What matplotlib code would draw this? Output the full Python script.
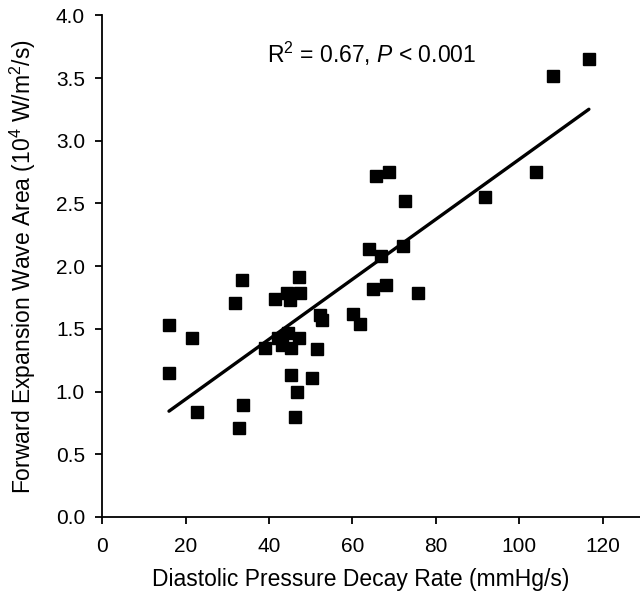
import numpy as np
import matplotlib.pyplot as plt

plt.rcParams['font.family'] = ['Liberation Sans', 'DejaVu Sans']
plt.rcParams['mathtext.fontset'] = 'custom'
plt.rcParams['mathtext.rm'] = 'Liberation Sans'
plt.rcParams['mathtext.it'] = 'Liberation Sans:italic'

# decay rate (mmHg/s)
decay = [16.0, 16.0, 21.6, 22.6, 31.9, 33.5, 33.7, 32.7, 39.1, 41.4,
         44.2, 45.0, 47.2, 47.4, 42.1, 44.6, 47.2, 43.0, 45.3, 45.2,
         46.6, 46.3, 50.4, 51.6, 52.2, 52.8, 60.2, 61.8, 63.9, 65.0,
         65.6, 66.8, 68.1, 68.8, 72.2, 72.6, 75.8, 91.7, 104.1, 108.1,
         116.7]
# forward expansion wave area (10^4 W/m^2/s)
fewa = [1.53, 1.15, 1.43, 0.84, 1.71, 1.89, 0.89, 0.71, 1.35, 1.74,
        1.79, 1.73, 1.91, 1.79, 1.43, 1.47, 1.43, 1.37, 1.35, 1.13,
        1.00, 0.80, 1.11, 1.34, 1.61, 1.57, 1.62, 1.54, 2.14, 1.82,
        2.72, 2.08, 1.85, 2.75, 2.16, 2.52, 1.79, 2.55, 2.75, 3.52,
        3.65]

x = np.array(decay)
y = np.array(fewa)
b, a = np.polyfit(x, y, 1)
xl = np.array([x.min(), x.max()])

fig = plt.figure(figsize=(6.4, 5.98), dpi=100)
ax = fig.add_axes([0.1598, 0.1355, 0.847, 0.8388])

ax.plot(x, y, 's', color='black', ms=9, zorder=3)
ax.plot(xl, a + b*xl, color='black', lw=2.4, solid_capstyle='round')

ax.text(64.6, 3.62, r'R$^2$ = 0.67, $P$ < 0.001', ha='center', va='baseline', fontsize=16.5)

ax.set_xlim(0, 130)
ax.set_ylim(0, 4)
ax.set_xticks([0, 20, 40, 60, 80, 100, 120])
ax.set_yticks(np.arange(0, 4.01, 0.5))
ax.yaxis.set_major_formatter(plt.FormatStrFormatter('%.1f'))
ax.tick_params(direction='out', length=5, width=1.3, labelsize=15, colors='black')
ax.tick_params(axis='x', pad=9.5)
ax.tick_params(axis='y', pad=7.5)
for s in ['top', 'right']:
    ax.spines[s].set_visible(False)
for s in ['left', 'bottom']:
    ax.spines[s].set_linewidth(1.3)

ax.set_xlabel('Diastolic Pressure Decay Rate (mmHg/s)', fontsize=16.5)
ax.set_ylabel('Forward Expansion Wave Area (10$^4$ W/m$^2$/s)', fontsize=16.5)
ax.xaxis.set_label_coords(0.477, -0.102)
ax.yaxis.set_label_coords(-0.119, 0.5)

plt.savefig('out.png', dpi=100)
